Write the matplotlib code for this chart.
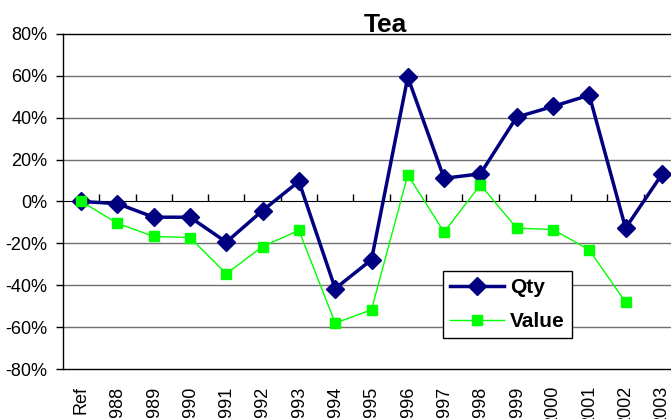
import matplotlib
matplotlib.use("Agg")
import matplotlib.pyplot as plt
from matplotlib.ticker import FuncFormatter

categories = ["Ref", "1988", "1989", "1990", "1991", "1992", "1993", "1994", "1995",
              "1996", "1997", "1998", "1999", "2000", "2001", "2002", "2003"]
qty = [0, -1, -7.5, -7.5, -19.4, -4.3, 9.6, -41.6, -27.8, 59.4, 11.1, 13.2, 40.3, 45.4, 50.8, -12.7, 12.9]
value = [0, -10.4, -16.7, -17.2, -34.5, -21.5, -13.8, -58.1, -51.7, 12.7, -14.6, 8.0, -12.7, -13.4, -23.1, -48.1, None]
yticks = [-80, -60, -40, -20, 0, 20, 40, 60, 80]

plt.rcParams['font.family'] = ['Liberation Sans', 'DejaVu Sans']

fig = plt.figure(figsize=(6.71, 4.19), dpi=100)
ax = fig.add_axes([63/671, 50/419, 617/671, 335/419])

x = list(range(len(categories)))
vx = [i for i, v in zip(x, value) if v is not None]
vy = [v for v in value if v is not None]

ax.plot(x, qty, color='#000080', lw=2.5, marker='D', ms=9.2, mec='#000080', mfc='#000080', label='Qty', zorder=4)
ax.plot(vx, vy, color='#00FF00', lw=1, marker='s', ms=7, mec='#00FF00', mfc='#00FF00', label='Value', zorder=5)

ax.set_xlim(-0.5, len(categories) - 0.5)
ax.set_ylim(-80, 80)
ax.set_yticks(yticks)
ax.yaxis.set_major_formatter(FuncFormatter(lambda v, p: f"{int(v)}%"))
ax.tick_params(axis='y', direction='out', length=5, width=1, pad=6, labelsize=13, colors='black')
for t in yticks:
    if t not in (-80, 0, 80):
        ax.axhline(t, color='#707070', lw=1, zorder=1)

ax.set_xticks(x)
ax.set_xticklabels(categories, rotation=90, va='top', ha='center')
ax.tick_params(axis='x', length=0, pad=12, labelsize=13)

for s in ['left', 'top', 'bottom']:
    ax.spines[s].set_color('black')
    ax.spines[s].set_linewidth(1)
ax.spines['right'].set_visible(False)

sec = ax.secondary_xaxis(0.5)
sec.set_xticks([i + 0.5 for i in range(len(categories) - 1)])
sec.set_xticklabels([])
sec.tick_params(direction='out', length=5, width=1)
sec.spines['bottom'].set_color('black')
sec.spines['bottom'].set_linewidth(1.2)

fig.text(385/671, (419-32)/419, "Tea", ha='center', va='baseline', fontsize=19, fontweight='bold')

handles, labels = ax.get_legend_handles_labels()
leg = ax.legend(handles, labels, loc='upper left', bbox_to_anchor=(443/671, (419-271)/419),
                bbox_transform=fig.transFigure, frameon=True, fancybox=False, framealpha=1,
                edgecolor='black', prop={'weight': 'bold', 'size': 15}, handlelength=2.6,
                handletextpad=0.25, borderpad=0.35, labelspacing=0.7, borderaxespad=0)
leg.get_frame().set_linewidth(1)

fig.savefig("out.png", dpi=100, facecolor='white')
